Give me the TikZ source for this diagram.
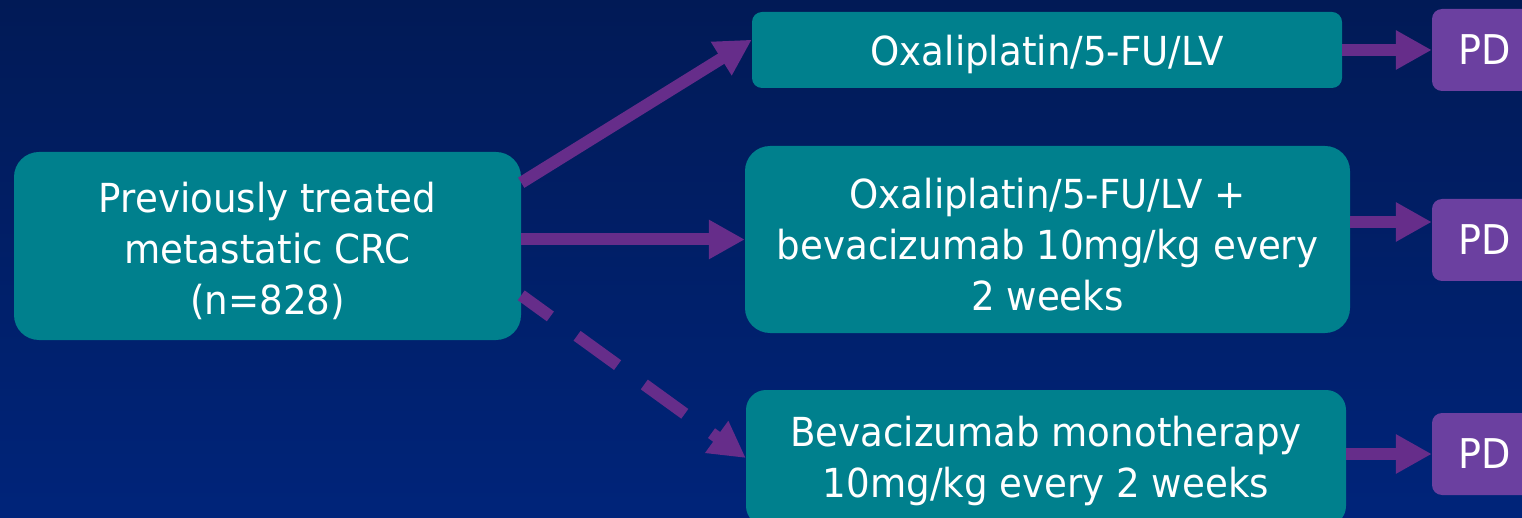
\documentclass[tikz,border=0pt]{standalone}
\usepackage{fontspec}
\setmainfont{DejaVu Sans}[FakeStretch=0.93]
\usetikzlibrary{arrows.meta,calc}
\definecolor{bgtop}{RGB}{1,26,86}
\definecolor{bgbot}{RGB}{0,36,122}
\definecolor{teal}{RGB}{0,128,141}
\definecolor{pdpurple}{RGB}{107,64,160}
\definecolor{arrowpurple}{RGB}{102,45,138}
\tikzset{
  box/.style={fill=teal, inner sep=0pt},
  boxtext/.style={text=white, align=center, inner sep=0pt,
    font=\fontsize{40}{51}\selectfont},
  pdbox/.style={fill=pdpurple, text=white, inner sep=0pt, rounded corners=10pt,
    minimum width=106pt, minimum height=82pt, font=\fontsize{41}{48}\selectfont},
  conn/.style={draw=arrowpurple, line width=12pt,
    -{Triangle[length=36pt,width=37pt]}},
}
\begin{document}
\begin{tikzpicture}[x=1pt,y=-1pt]
\useasboundingbox (0,0) rectangle (1522,518);
\shade[top color=bgtop, bottom color=bgbot] (0,0) rectangle (1522,518);

\node[box, rounded corners=25pt, minimum width=507pt, minimum height=188pt] (left) at (267.5,246) {};
\node[boxtext] (lefttext) at ([yshift=-5pt]left.center)
  {Previously treated\\metastatic CRC\\(n=828)};
\node[box, rounded corners=10pt, minimum width=590pt, minimum height=76pt] (top) at (1047,50) {};
\node[boxtext] (toptext) at ([yshift=-4pt]top.center) {Oxaliplatin/5-FU/LV};
\node[box, rounded corners=25pt, minimum width=605pt, minimum height=187pt] (mid) at (1047.5,239.5) {};
\node[boxtext] (midtext) at ([yshift=-5pt]mid.center)
  {Oxaliplatin/5-FU/LV +\\bevacizumab 10mg/kg every\\2 weeks};
\node[box, rounded corners=20pt, minimum width=600pt, minimum height=136pt] (bot) at (1046,458) {};
\node[boxtext] (bottext) at ([yshift=-3pt]bot.center)
  {Bevacizumab monotherapy\\10mg/kg every 2 weeks};

\node[pdbox] (pd1) at (1485,50) {PD};
\node[pdbox] (pd2) at (1485,240) {PD};
\node[pdbox] (pd3) at (1485,454) {PD};

\draw[conn] (left.14) -- (top.178);
\draw[conn] (left.east |- mid.west) -- (mid.west);
\draw[conn, dash pattern=on 50pt off 33pt, dash phase=14pt] (left.-11.6) -- (bot.west);

\coordinate (a2) at ($(pd2.west)+(0,-18)$);
\draw[conn] (top.east) -- (pd1.west);
\draw[conn] (mid.east |- a2) -- (a2);
\draw[conn] (bot.east |- pd3.west) -- (pd3.west);
\end{tikzpicture}
\end{document}
